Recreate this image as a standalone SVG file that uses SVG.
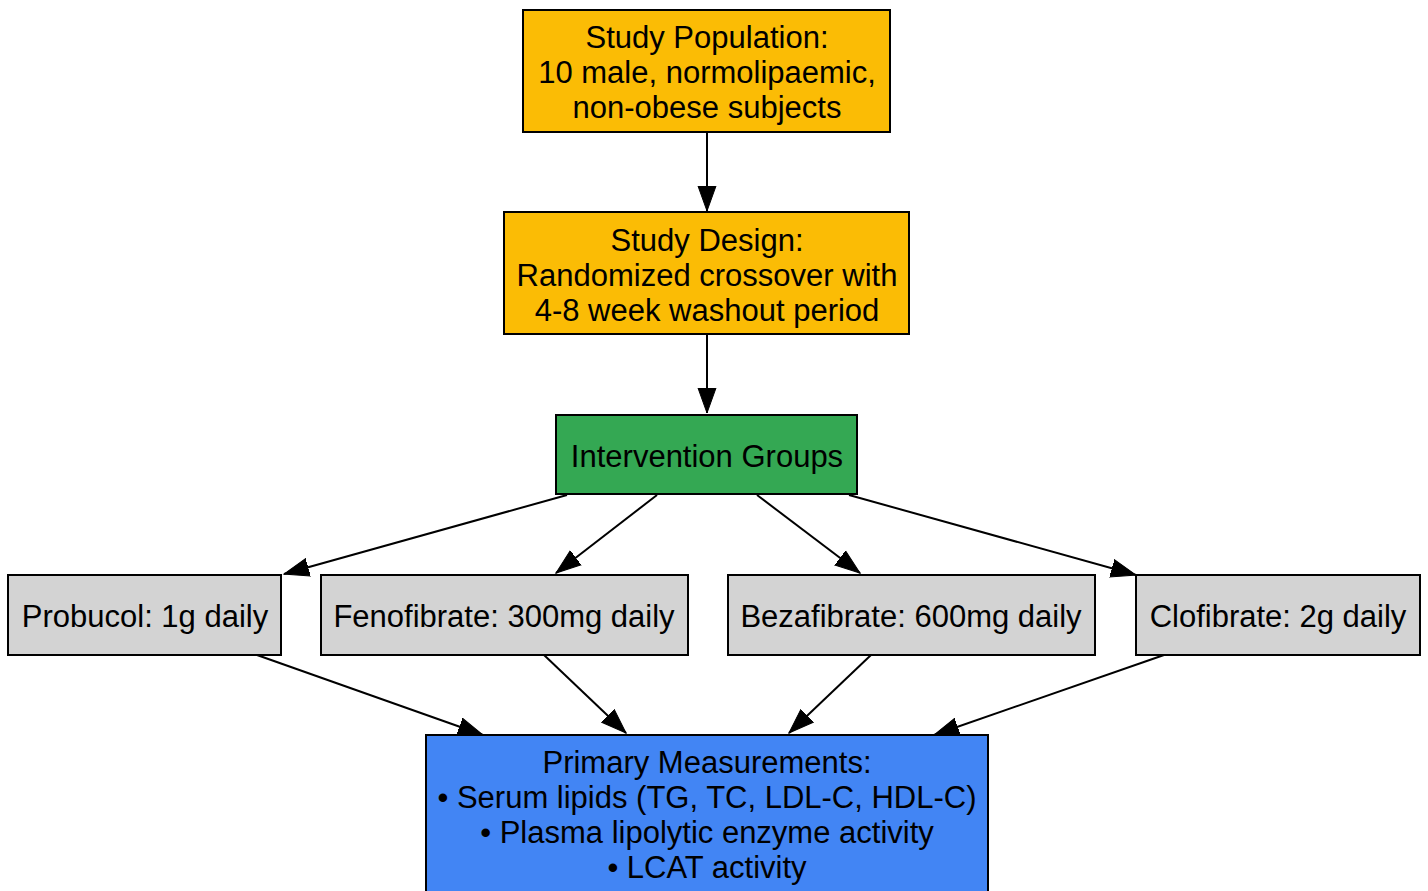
<svg xmlns="http://www.w3.org/2000/svg" width="1428" height="891" viewBox="0 0 1428 891">
<style>
.n rect{stroke:#000;stroke-width:2}
.n text{font-family:"Liberation Sans",Arial,sans-serif;font-size:31px;text-anchor:middle;fill:#000}
.y{fill:#FBBC05}.g{fill:#34A853}.gr{fill:#D3D3D3}.b{fill:#4285F4}
#edges line{stroke:#000;stroke-width:2;marker-end:url(#ah)}
</style>
<defs>
<marker id="ah" markerUnits="userSpaceOnUse" markerWidth="28" markerHeight="22" refX="25" refY="10" orient="auto">
<path d="M0,1 L25,10 L0,19 Z" fill="#000" stroke="#000" stroke-width="1"/>
</marker>
</defs>
<rect width="1428" height="891" fill="#fff"/>
<g id="edges">
<line x1="707" y1="132" x2="707" y2="211"/>
<line x1="707" y1="334" x2="707" y2="413"/>
<line x1="567" y1="495" x2="284" y2="574"/>
<line x1="657" y1="495" x2="556" y2="573"/>
<line x1="757" y1="495" x2="860" y2="573"/>
<line x1="849" y1="495" x2="1136" y2="575"/>
<line x1="257" y1="655" x2="483" y2="735"/>
<line x1="544" y1="655" x2="626" y2="733"/>
<line x1="871" y1="655" x2="789" y2="733"/>
<line x1="1164" y1="655" x2="934" y2="735"/>
</g>
<g id="population" class="n"><rect class="y" x="523" y="10" width="367" height="122"/>
<text x="707" y="48">Study Population:</text><text x="707" y="83">10 male, normolipaemic,</text><text x="707" y="118">non-obese subjects</text></g>
<g id="design" class="n"><rect class="y" x="504" y="212" width="405" height="122"/>
<text x="707" y="251">Study Design:</text><text x="707" y="286">Randomized crossover with</text><text x="707" y="321">4-8 week washout period</text></g>
<g id="groups" class="n"><rect class="g" x="556" y="415" width="301" height="79"/>
<text x="707" y="467">Intervention Groups</text></g>
<g id="probucol" class="n"><rect class="gr" x="8" y="575" width="273" height="80"/>
<text x="145" y="627">Probucol: 1g daily</text></g>
<g id="fenofibrate" class="n"><rect class="gr" x="321" y="575" width="367" height="80"/>
<text x="504" y="627">Fenofibrate: 300mg daily</text></g>
<g id="bezafibrate" class="n"><rect class="gr" x="728" y="575" width="367" height="80"/>
<text x="911" y="627">Bezafibrate: 600mg daily</text></g>
<g id="clofibrate" class="n"><rect class="gr" x="1136" y="575" width="284" height="80"/>
<text x="1278" y="627">Clofibrate: 2g daily</text></g>
<g id="measurements" class="n"><rect class="b" x="426" y="735" width="562" height="170"/>
<text x="707" y="773">Primary Measurements:</text><text x="707" y="808">• Serum lipids (TG, TC, LDL-C, HDL-C)</text><text x="707" y="843">• Plasma lipolytic enzyme activity</text><text x="707" y="878">• LCAT activity</text></g>
</svg>
